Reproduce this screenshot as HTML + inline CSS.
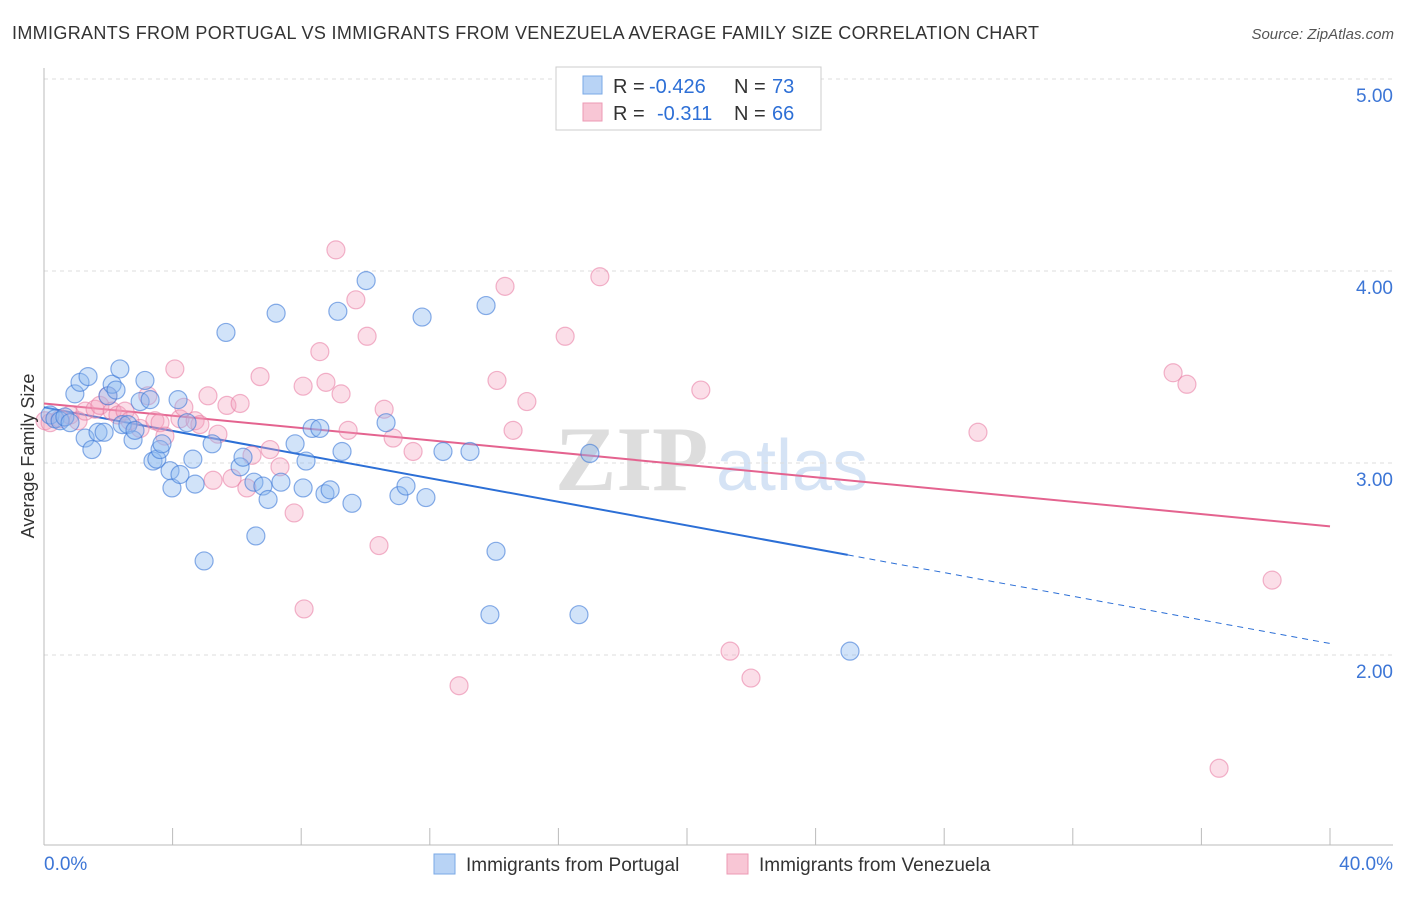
<!DOCTYPE html>
<html><head><meta charset="utf-8"><style>
body{margin:0;background:#fff;font-family:"Liberation Sans",sans-serif}
</style></head><body>
<svg id="chart" width="1406" height="892" xmlns="http://www.w3.org/2000/svg" font-family="Liberation Sans, sans-serif">
<text x="12" y="39" font-size="18" fill="#333" textLength="1027" lengthAdjust="spacing">IMMIGRANTS FROM PORTUGAL VS IMMIGRANTS FROM VENEZUELA AVERAGE FAMILY SIZE CORRELATION CHART</text>
<text x="1394" y="39" font-size="15" fill="#555" text-anchor="end" font-style="italic">Source: ZipAtlas.com</text>
<g>
<text x="555" y="490" font-size="92" fill="#ddd" font-family="Liberation Serif, serif" font-weight="bold">ZIP</text>
<text x="716" y="490" font-size="72" fill="#d5e3f5">atlas</text>
</g>
<g id="grid"></g><g id="axes"></g><g id="trends"></g><g id="points"></g>
<text transform="translate(34,456) rotate(-90)" font-size="18" fill="#333" text-anchor="middle">Average Family Size</text>
<g>
<rect x="556" y="67" width="265" height="63" fill="#fff" stroke="#ccc"/>
<rect x="583" y="76" width="19" height="18" fill="#b8d3f5" stroke="#7aa8e6"/>
<text x="613" y="93" font-size="20" fill="#333">R =</text>
<text x="649" y="93" font-size="20" fill="#2d6fd6">-0.426</text>
<text x="734" y="93" font-size="20" fill="#333">N =</text>
<text x="772" y="93" font-size="20" fill="#2d6fd6">73</text>
<rect x="583" y="103" width="19" height="18" fill="#f8c6d5" stroke="#ec9ab4"/>
<text x="613" y="120" font-size="20" fill="#333">R =</text>
<text x="657" y="120" font-size="20" fill="#2d6fd6">-0.311</text>
<text x="734" y="120" font-size="20" fill="#333">N =</text>
<text x="772" y="120" font-size="20" fill="#2d6fd6">66</text>
</g>
<g>
<rect x="434" y="854" width="21" height="20" fill="#b8d3f5" stroke="#7aa8e6"/>
<text x="466" y="871" font-size="19" fill="#333">Immigrants from Portugal</text>
<rect x="727" y="854" width="21" height="20" fill="#f8c6d5" stroke="#ec9ab4"/>
<text x="759" y="871" font-size="19" fill="#333">Immigrants from Venezuela</text>
</g>
</svg>
<script>
const blueX=[0.19,0.34,0.50,0.65,0.81,0.96,1.12,1.28,1.37,1.49,1.68,1.87,1.99,2.12,2.24,2.36,2.43,2.61,2.77,2.83,2.99,3.14,3.30,3.39,3.51,3.61,3.67,3.92,3.98,4.17,4.23,4.45,4.70,4.63,4.98,5.23,5.66,6.10,6.19,6.53,6.59,6.81,6.97,7.22,7.37,7.81,8.06,8.15,8.34,8.58,8.74,8.90,9.14,9.27,9.58,10.02,10.64,11.04,11.26,11.76,11.88,12.41,13.25,13.75,13.87,14.06,16.64,16.98,25.07];
const blueY=[3.25,3.23,3.22,3.24,3.21,3.36,3.42,3.13,3.45,3.07,3.16,3.16,3.35,3.41,3.38,3.49,3.20,3.20,3.12,3.17,3.32,3.43,3.33,3.01,3.02,3.07,3.10,2.96,2.87,3.33,2.94,3.21,2.89,3.02,2.49,3.10,3.68,2.98,3.03,2.90,2.62,2.88,2.81,3.78,2.90,3.10,2.87,3.01,3.18,3.18,2.84,2.86,3.79,3.06,2.79,3.95,3.21,2.83,2.88,3.76,2.82,3.06,3.06,3.82,2.21,2.54,2.21,3.05,2.02];
const pinkX=[0.03,0.19,0.50,0.81,1.06,1.28,1.59,1.74,1.99,2.12,2.30,2.52,2.67,2.99,3.23,3.45,3.61,3.76,4.07,4.23,4.35,4.70,4.85,5.10,5.26,5.41,5.69,5.85,6.10,6.31,6.47,6.72,7.03,7.34,7.78,8.06,8.09,8.58,8.77,9.08,9.24,9.46,9.70,10.05,10.42,10.58,10.86,11.48,12.91,14.09,14.34,14.59,15.02,16.21,17.29,20.43,21.34,21.99,29.05,35.12,35.55,36.55,38.20];
const pinkY=[3.22,3.21,3.23,3.25,3.22,3.27,3.28,3.30,3.35,3.27,3.25,3.27,3.22,3.18,3.35,3.22,3.21,3.14,3.49,3.23,3.29,3.22,3.20,3.35,2.91,3.15,3.30,2.92,3.31,2.87,3.04,3.45,3.07,2.98,2.74,3.40,2.24,3.58,3.42,4.11,3.36,3.17,3.85,3.66,2.57,3.28,3.13,3.06,1.84,3.43,3.92,3.17,3.32,3.66,3.97,3.38,2.02,1.88,3.16,3.47,3.41,1.41,2.39];
const blueTrend=[3.29,2.06];   // value at 0% and 40%
const blueSolidEnd=25;
const pinkTrend=[3.31,2.67];
const yTicks=[2,3,4,5];
const yTickLabels=["2.00","3.00","4.00","5.00"];
const xTicks=[0,4,8,12,16,20,24,28,32,36,40];

const NS="http://www.w3.org/2000/svg";
const X=v=>44+v*(1286/40);
const Y=v=>463-(v-3)*192;
function mk(tag,attrs,parent){const e=document.createElementNS(NS,tag);for(const k in attrs)e.setAttribute(k,attrs[k]);document.getElementById(parent).appendChild(e);return e;}

yTicks.forEach((t,i)=>{
  const g=mk('line',{x1:44,x2:1393,y1:Y(t),y2:Y(t),stroke:'#ddd','stroke-dasharray':'4,4'},'grid');
  
  
  const l=mk('text',{x:1393,y:Y(t)+23,'font-size':19,fill:'#3d76d6','text-anchor':'end'},'grid');
  l.textContent=yTickLabels[i];
  
  
});
const ax=mk('line',{x1:44,x2:1393,y1:845,y2:845,stroke:'#bbb'},'axes');


const ay=mk('line',{x1:44,x2:44,y1:68,y2:845,stroke:'#bbb'},'axes');


xTicks.forEach(t=>{
  const tk=mk('line',{x1:X(t),x2:X(t),y1:828,y2:845,stroke:'#bbb'},'axes');
  
  
});
const xl0=mk('text',{x:44,y:870,'font-size':19,fill:'#3d76d6'},'axes');xl0.textContent='0.0%';


const xl1=mk('text',{x:1393,y:870,'font-size':19,fill:'#3d76d6','text-anchor':'end'},'axes');xl1.textContent='40.0%';



pinkX.forEach((v,i)=>{
  const c=mk('circle',{cx:X(v),cy:Y(pinkY[i]),r:9,fill:'rgba(244,160,188,0.35)',stroke:'rgba(232,120,160,0.55)','stroke-width':1.2},'points');
  
  
});
blueX.forEach((v,i)=>{
  const c=mk('circle',{cx:X(v),cy:Y(blueY[i]),r:9,fill:'rgba(140,185,240,0.4)',stroke:'rgba(60,120,215,0.6)','stroke-width':1.2},'points');
  
  
});
const bAt=x=>blueTrend[0]+(blueTrend[1]-blueTrend[0])*x/40;
const pAt=x=>pinkTrend[0]+(pinkTrend[1]-pinkTrend[0])*x/40;
const t1=mk('line',{x1:X(0),y1:Y(bAt(0)),x2:X(blueSolidEnd),y2:Y(bAt(blueSolidEnd)),stroke:'#2c6fd6','stroke-width':2},'trends');


const t2=mk('line',{x1:X(blueSolidEnd),y1:Y(bAt(blueSolidEnd)),x2:X(40),y2:Y(bAt(40)),stroke:'#2c6fd6','stroke-width':1,'stroke-dasharray':'6,5'},'trends');


const t3=mk('line',{x1:X(0),y1:Y(pAt(0)),x2:X(40),y2:Y(pAt(40)),stroke:'#e4638f','stroke-width':2},'trends');


</script>
</body></html>
